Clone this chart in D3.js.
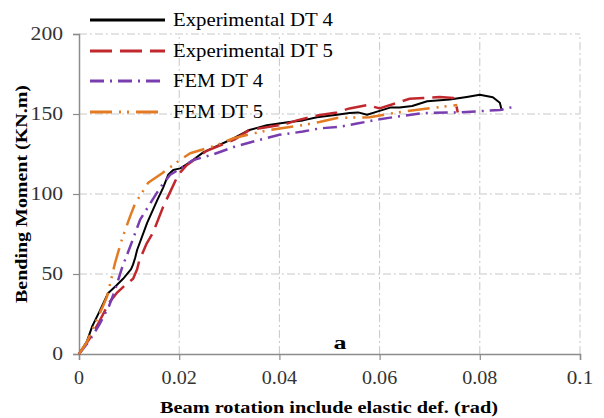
<!DOCTYPE html>
<html>
<head>
<meta charset="utf-8">
<script src="https://cdn.jsdelivr.net/npm/d3@7"></script>
<style>
  body { margin: 0; background: #fff; }
  svg { display: block; }
</style>
</head>
<body>
<div id="chart"></div>
<script>
// Data: [rotation (rad), moment (KN.m)]
const expDT4 = [
  [0, 0], [0.0016, 8], [0.0026, 17], [0.004, 26], [0.0058, 38], [0.0075, 43], [0.0088, 47],
  [0.0104, 53], [0.0108, 56], [0.0112, 60], [0.0116, 65], [0.0136, 82], [0.0156, 96],
  [0.0168, 104], [0.0178, 112], [0.0188, 115], [0.0202, 116], [0.0222, 120], [0.0248, 126],
  [0.031, 135], [0.034, 140], [0.0375, 143], [0.042, 145], [0.0447, 146], [0.0475, 148],
  [0.0515, 149.5], [0.054, 150.6], [0.0557, 151], [0.0575, 149.5], [0.0595, 151.5],
  [0.0621, 154], [0.064, 154], [0.0665, 155], [0.0695, 158], [0.074, 159], [0.0774, 160.6],
  [0.08, 162], [0.0826, 160.5], [0.084, 157], [0.0844, 152]
];
const expDT5 = [
  [0, 0], [0.002, 9], [0.004, 20], [0.006, 32], [0.0075, 38], [0.0092, 43], [0.0108, 47],
  [0.0116, 53], [0.012, 58], [0.0135, 69], [0.0148, 76], [0.0168, 92], [0.0186, 104],
  [0.0198, 112], [0.0215, 118], [0.0255, 127], [0.031, 134], [0.034, 140], [0.04, 143],
  [0.0415, 144], [0.0435, 146], [0.0475, 149], [0.0515, 151], [0.054, 153.5], [0.0575, 155.6],
  [0.06, 153.5], [0.0635, 157], [0.066, 159.5], [0.0687, 160], [0.072, 160.6], [0.0747, 160],
  [0.0754, 154], [0.0756, 151]
];
const femDT4 = [
  [0, 0], [0.002, 8], [0.004, 18], [0.006, 30], [0.0072, 40], [0.0086, 54], [0.0102, 67],
  [0.0122, 84], [0.0142, 94], [0.0162, 104], [0.0182, 112], [0.0208, 117], [0.0226, 121],
  [0.027, 125], [0.031, 129.5], [0.035, 133], [0.04, 137], [0.0447, 139], [0.048, 141],
  [0.052, 142], [0.0555, 144], [0.0587, 146], [0.0627, 148], [0.0687, 150.6], [0.076, 151],
  [0.084, 152.5], [0.0867, 154.4]
];
const femDT5 = [
  [0, 0], [0.0015, 7], [0.0032, 19], [0.0048, 30], [0.0056, 36], [0.0066, 49], [0.0072, 57],
  [0.0086, 72], [0.0102, 86], [0.0112, 94], [0.0138, 107], [0.0166, 113], [0.0196, 120],
  [0.0222, 125.5], [0.027, 130], [0.031, 135], [0.035, 138], [0.038, 140], [0.0447, 143],
  [0.048, 145], [0.0515, 147.5], [0.058, 148], [0.0635, 151], [0.0727, 154.6], [0.0755, 155.6]
];

const seriesNames = ["Experimental DT 4", "Experimental DT 5", "FEM DT 4", "FEM DT 5"];
const seriesData = [expDT4, expDT5, femDT4, femDT5];

const xTicks = [0, 0.02, 0.04, 0.06, 0.08, 0.1];
const yTicks = [0, 50, 100, 150, 200];

const width = 604, height = 418;
const margin = { left: 79, right: 24, top: 34, bottom: 64 };
const serif = "'Liberation Serif', Tinos, 'Times New Roman', 'DejaVu Serif', serif";

const styles = [
  { color: "#000000", width: 2, dash: null },
  { color: "#C0282D", width: 2.5, dash: "22,8" },
  { color: "#7A3DB0", width: 2.5, dash: "14,6,2,6" },
  { color: "#E37B22", width: 2.5, dash: "22,7,2,6,2,7" }
];

const svg = d3.select("#chart").append("svg")
  .attr("width", width)
  .attr("height", height)
  .attr("font-family", serif);

const x = d3.scaleLinear().domain([0, 0.1]).range([margin.left, width - margin.right]);
const y = d3.scaleLinear().domain([0, 200]).range([height - margin.bottom, margin.top]);

// text squeezed/stretched to the width it has in the picture
function addText(px, py, str, w, opts) {
  return svg.append("text")
    .attr("x", px).attr("y", py)
    .attr("text-anchor", opts.anchor || "start")
    .attr("textLength", w).attr("lengthAdjust", "spacingAndGlyphs")
    .attr("font-family", serif)
    .style("font-size", (opts.size || 18) + "px")
    .style("font-weight", opts.bold ? "bold" : "normal")
    .attr("fill", opts.fill || "#000")
    .text(str);
}

// gridlines
svg.append("g").selectAll("line")
  .data(yTicks.filter(d => d > 0))
  .enter().append("line")
  .attr("x1", x(0)).attr("x2", x(0.1))
  .attr("y1", d => y(d)).attr("y2", d => y(d))
  .attr("stroke", "#c8c8c8").attr("stroke-width", 1)
  .attr("stroke-dasharray", "8,3,2,3");

svg.append("g").selectAll("line")
  .data(xTicks.filter(d => d > 0))
  .enter().append("line")
  .attr("x1", d => x(d)).attr("x2", d => x(d))
  .attr("y1", y(0)).attr("y2", y(200))
  .attr("stroke", "#c8c8c8").attr("stroke-width", 1)
  .attr("stroke-dasharray", "8,3,2,3");

// axes
const xAxis = svg.append("g")
  .attr("transform", `translate(0,${y(0)})`)
  .call(d3.axisBottom(x).tickValues(xTicks).tickSize(6).tickFormat(""));
const yAxis = svg.append("g")
  .attr("transform", `translate(${x(0)},0)`)
  .call(d3.axisLeft(y).tickValues(yTicks).tickSize(6).tickFormat(""));
[xAxis, yAxis].forEach(g => {
  g.select(".domain").attr("stroke", "#8c8c8c").attr("stroke-width", 1.5);
  g.selectAll(".tick line").attr("stroke", "#8c8c8c").attr("stroke-width", 1.2);
});

// tick labels
const xFmt = d => d === 0 ? "0" : String(d);
xTicks.forEach(d => {
  const s = xFmt(d);
  addText(x(d), y(0) + 30, s, s.length === 1 ? 10 : s.length * 8.8, { anchor: "middle", fill: "#333" });
});
yTicks.forEach(d => {
  const s = String(d);
  addText(x(0) - 16, y(d) + 6, s, s.length * 10.8, { anchor: "end", fill: "#333" });
});

// curves
const line = d3.line().x(d => x(d[0])).y(d => y(d[1]));
seriesData.forEach((data, i) => {
  svg.append("path")
    .datum(data)
    .attr("d", line)
    .attr("fill", "none")
    .attr("stroke", styles[i].color)
    .attr("stroke-width", styles[i].width)
    .attr("stroke-dasharray", styles[i].dash)
    .attr("stroke-linejoin", "round");
});

// legend
const legendY = [20, 51, 81, 112];
const legendW = [160, 160, 90, 90];
seriesNames.forEach((name, i) => {
  svg.append("line")
    .attr("x1", 90).attr("x2", 165)
    .attr("y1", legendY[i]).attr("y2", legendY[i])
    .attr("stroke", styles[i].color)
    .attr("stroke-width", 3)
    .attr("stroke-dasharray", styles[i].dash);
  addText(173, legendY[i] + 6, name, legendW[i], { size: 18 });
});

// panel letter
addText(340, 349, "a", 13, { size: 18, bold: true, anchor: "middle" });

// axis titles
addText(329, 413, "Beam rotation include elastic def. (rad)", 338, { size: 17, bold: true, anchor: "middle" });

svg.append("text")
  .attr("transform", "translate(27,194) rotate(-90)")
  .attr("text-anchor", "middle")
  .attr("textLength", 218).attr("lengthAdjust", "spacingAndGlyphs")
  .attr("font-family", serif)
  .style("font-size", "17px").style("font-weight", "bold")
  .text("Bending Moment (KN.m)");
</script>
</body>
</html>
